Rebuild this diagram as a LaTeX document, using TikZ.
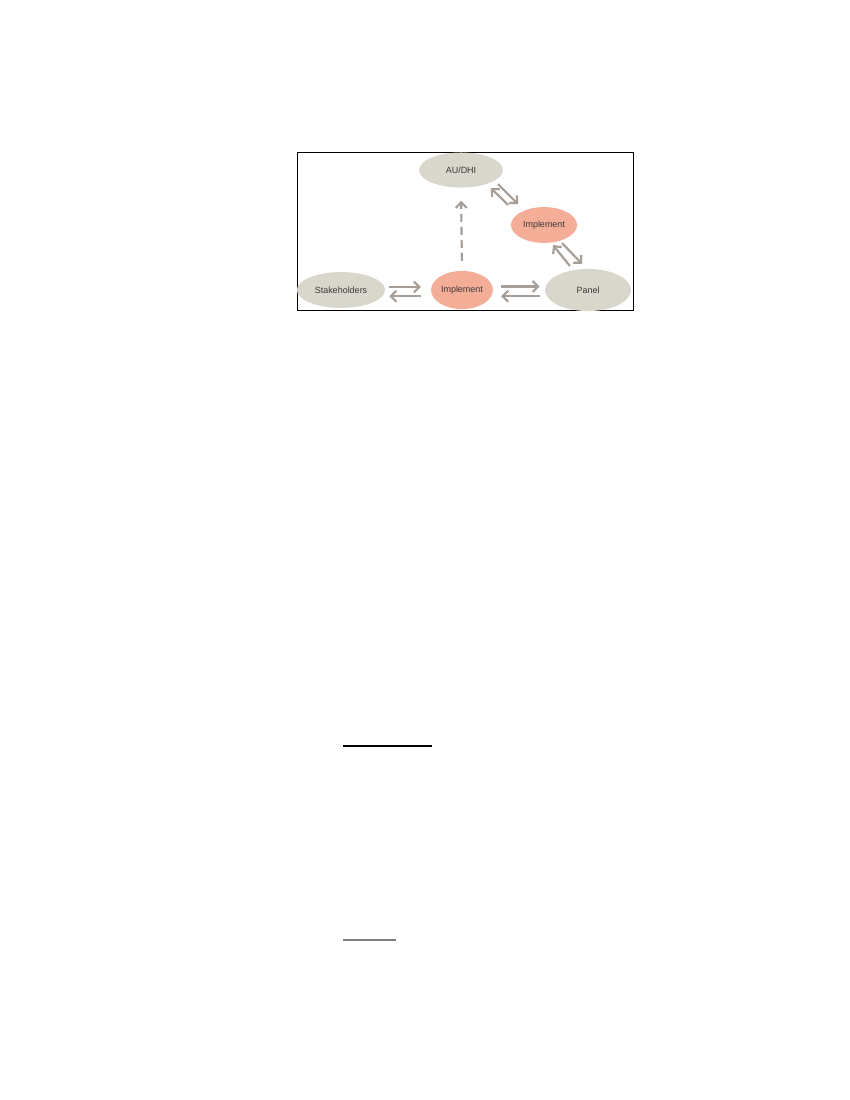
\documentclass[tikz,border=0pt]{standalone}
\usepackage{fontspec}
\setmainfont{Liberation Sans}
\usetikzlibrary{shapes.geometric,arrows.meta}
\definecolor{bubble}{HTML}{D9D6CB}
\definecolor{salmon}{HTML}{F4AE98}
\definecolor{pipegray}{HTML}{A69E97}
\definecolor{inkgray}{HTML}{3A3A3A}
\begin{document}
\begin{tikzpicture}[x=0.254mm,y=-0.254mm,
    party/.style={ellipse,fill=bubble,inner sep=0pt,text=inkgray,font=\fontsize{6.5}{8}\selectfont},
    act/.style={party,fill=salmon},
    pipe/.style={draw=pipegray,line width=0.55mm,-{Straight Barb[length=1.4mm,width=2.8mm]}}]
            \useasboundingbox (0,0) rectangle (850,1100);
            \fill[white] (0,0) rectangle (850,1100);
            \draw[line width=0.2mm] (297,152) rectangle (633,310);
            \node[party,minimum width=21.3mm,minimum height=8.9mm] (au) at (461,170){AU/DHI};
            \node[act,minimum width=16.8mm,minimum height=9.1mm] (imtop) at (544,225){Implement};
            \node[party,minimum width=22.4mm,minimum height=9.1mm] (stake) at (341,290){Stakeholders};
            \node[act,minimum width=15.7mm,minimum height=9.7mm] (imlow) at (462,290){Implement};
            \node[party,minimum width=21.8mm,minimum height=10.7mm] (panel) at (588,290){Panel};
            \draw[pipe,shorten <=1mm,shorten >=2.5mm] ([yshift=0.76mm]stake.east)--([yshift=0.76mm]imlow.west);
            \draw[pipe,shorten <=2.5mm,shorten >=1mm] ([yshift=-1.6mm]imlow.west)--([yshift=-1.6mm]stake.east);
            \draw[pipe,shorten <=2mm,shorten >=1.3mm] ([yshift=0.9mm]imlow.east)--([yshift=0.9mm]panel.west);
            \draw[pipe,shorten <=1.3mm,shorten >=2mm] ([yshift=-1.6mm]panel.west)--([yshift=-1.6mm]imlow.east);
            \draw[pipe,dashed,dash pattern=on 2mm off 1.3mm,shorten <=2.5mm,shorten >=3.3mm] (imlow.north)--(au.south);
            \draw[pipe] ([shift={(-9.1mm,5.1mm)}]imtop.center)--([shift={(7.6mm,-4.6mm)}]au.center);
            \draw[pipe] ([shift={(9.4mm,-3.6mm)}]au.center)--([shift={(-6.6mm,5.3mm)}]imtop.center);
            \draw[pipe] ([shift={(-4.6mm,6.1mm)}]panel.center)--([shift={(2.3mm,-5.1mm)}]imtop.center);
            \draw[pipe] ([shift={(4.6mm,-4.6mm)}]imtop.center)--([shift={(-1.5mm,6.6mm)}]panel.center);
            \draw[line width=0.3mm] (343,746)--(432,746);
            \draw[line width=0.35mm,gray] (343,940)--(396,940);
        \end{tikzpicture}
\end{document}
